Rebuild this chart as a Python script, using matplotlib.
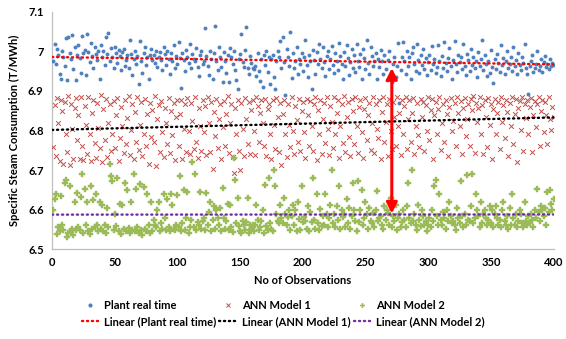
import numpy as np
import matplotlib
matplotlib.use("Agg")
import matplotlib.pyplot as plt
from matplotlib.lines import Line2D

plant = [
6.975,7.018,6.968,7.005,6.992,6.944,6.930,7.002,6.985,6.962,7.033,6.928,7.037,6.996,6.981,7.042,6.955,7.012,6.928,6.990,
7.015,6.983,6.946,7.038,6.995,7.004,6.941,7.043,6.998,6.972,7.021,6.988,6.957,7.010,6.993,6.978,7.002,6.930,7.016,6.985,
7.001,6.965,7.036,6.994,7.046,6.975,7.008,6.987,6.958,7.012,6.995,6.970,7.003,6.988,6.952,6.999,7.005,6.962,6.978,6.990,
6.958,7.028,6.993,6.940,6.982,7.002,6.967,6.988,6.918,7.027,6.975,6.946,6.996,7.010,6.965,6.985,6.929,6.991,7.005,6.978,
6.992,6.971,7.001,6.960,6.985,6.998,6.978,6.952,7.010,6.993,6.966,7.002,6.981,6.944,6.996,6.975,7.015,6.958,6.989,6.969,
7.025,6.984,6.907,6.996,6.978,6.951,7.003,6.986,6.971,7.018,6.958,6.994,6.982,6.975,7.008,6.960,6.938,6.991,7.001,6.968,
6.977,7.058,6.989,6.963,6.941,7.001,6.982,6.930,6.995,7.063,6.975,6.952,7.010,6.986,6.960,6.922,6.999,6.977,6.945,6.990,
6.922,7.008,6.985,6.968,7.000,6.952,6.927,6.905,6.980,6.994,7.043,6.972,6.961,7.003,7.061,6.958,6.944,6.988,6.970,6.957,
6.955,6.962,6.938,6.996,6.951,6.924,6.982,6.910,6.990,6.966,7.002,6.947,6.985,6.918,6.980,6.992,6.935,6.906,6.975,7.000,
6.987,7.027,6.957,7.036,6.973,6.890,7.005,6.985,6.962,7.048,6.933,6.997,6.958,6.975,7.010,6.942,6.982,6.968,6.996,6.950,
6.985,7.030,6.965,6.935,6.992,6.975,6.905,7.004,6.978,6.944,6.998,6.967,7.019,6.982,6.958,7.011,6.972,6.939,6.989,7.001,
6.956,6.980,7.014,6.965,6.946,6.996,6.977,6.952,7.022,6.988,6.969,6.930,6.999,6.962,7.015,6.983,6.940,6.973,7.007,6.958,
6.992,6.947,7.020,6.976,6.960,6.993,6.929,7.005,6.984,6.956,7.029,6.970,6.942,7.010,6.988,6.962,6.975,6.995,6.930,6.982,
6.960,7.004,6.975,6.943,6.990,6.955,6.928,6.978,7.002,6.946,6.922,6.968,6.987,6.935,6.962,7.021,6.870,6.953,6.985,7.025,
6.975,6.944,7.001,6.962,6.985,6.930,6.995,7.012,6.968,6.950,7.018,6.978,6.946,6.992,6.965,7.006,6.955,6.983,6.940,6.972,
6.990,6.953,7.013,6.968,6.982,6.945,6.960,7.016,6.975,6.938,6.989,6.957,7.024,6.970,6.950,6.984,7.008,6.962,6.930,6.978,
7.027,6.967,6.948,6.992,6.972,6.985,6.955,7.020,6.962,6.940,6.994,6.978,6.950,7.005,6.966,6.985,6.957,6.975,6.935,6.998,
6.962,6.980,7.028,6.952,6.990,6.968,6.938,6.975,6.945,7.003,6.960,6.920,6.982,6.955,6.993,6.970,6.948,7.015,6.965,6.983,
6.943,6.975,7.002,6.957,6.968,6.987,6.950,7.010,6.962,6.978,6.942,6.995,6.966,6.952,6.985,6.970,7.020,6.958,6.943,6.893,
6.962,6.975,6.990,6.948,6.958,6.968,7.000,6.953,6.964,6.982,6.947,6.972,6.988,6.960,6.967,6.955,6.980,6.962,6.971,6.966,
]

ann1 = [
6.758,6.865,6.735,6.882,6.820,6.722,6.876,6.850,6.715,6.871,6.790,6.745,6.888,6.712,6.868,6.803,6.728,6.858,6.881,6.775,
6.838,6.727,6.886,6.762,6.725,6.862,6.813,6.740,6.884,6.792,6.722,6.845,6.878,6.768,6.730,6.869,6.806,6.757,6.889,6.720,
6.855,6.776,6.880,6.732,6.818,6.867,6.748,6.792,6.874,6.755,6.838,6.882,6.722,6.780,6.860,6.812,6.743,6.878,6.765,6.832,
6.888,6.738,6.801,6.866,6.727,6.848,6.772,6.885,6.750,6.815,6.871,6.735,6.792,6.879,6.760,6.842,6.716,6.869,6.784,6.853,
6.770,6.887,6.710,6.828,6.864,6.746,6.875,6.796,6.733,6.858,6.820,6.765,6.881,6.742,6.850,6.788,6.870,6.725,6.835,6.877,
6.760,6.843,6.878,6.728,6.805,6.866,6.745,6.882,6.798,6.740,6.870,6.823,6.752,6.884,6.770,6.730,6.857,6.812,6.748,6.876,
6.795,6.862,6.738,6.886,6.818,6.745,6.872,6.702,6.848,6.785,6.880,6.755,6.830,6.868,6.728,6.810,6.875,6.762,6.843,6.888,
6.742,6.820,6.866,6.733,6.692,6.858,6.790,6.878,6.748,6.700,6.870,6.805,6.735,6.882,6.830,6.765,6.872,6.740,6.852,6.878,
6.800,6.738,6.886,6.862,6.772,6.845,6.878,6.820,6.762,6.880,6.735,6.855,6.868,6.790,6.728,6.876,6.815,6.752,6.883,6.833,
6.745,6.870,6.712,6.842,6.878,6.790,6.733,6.868,6.815,6.758,6.885,6.800,6.740,6.862,6.827,6.770,6.880,6.748,6.850,6.872,
6.795,6.730,6.880,6.838,6.762,6.874,6.812,6.747,6.866,6.885,6.725,6.852,6.790,6.878,6.740,6.830,6.870,6.768,6.885,6.805,
6.738,6.862,6.822,6.755,6.884,6.790,6.845,6.877,6.730,6.812,6.868,6.768,6.888,6.745,6.835,6.872,6.783,6.735,6.880,6.850,
6.766,6.886,6.812,6.742,6.860,6.878,6.795,6.730,6.855,6.882,6.775,6.838,6.870,6.750,6.818,6.885,6.742,6.866,6.805,6.780,
6.877,6.728,6.848,6.885,6.770,6.822,6.868,6.735,6.880,6.800,6.752,6.873,6.835,6.762,6.886,6.812,6.845,6.738,6.878,6.790,
6.862,6.885,6.752,6.828,6.876,6.770,6.845,6.882,6.740,6.812,6.870,6.788,6.758,6.880,6.835,6.872,6.748,6.865,6.800,6.886,
6.776,6.852,6.880,6.728,6.838,6.872,6.792,6.855,6.885,6.750,6.818,6.866,6.770,6.878,6.842,6.735,6.860,6.883,6.798,6.825,
6.870,6.760,6.886,6.845,6.812,6.875,6.740,6.858,6.882,6.785,6.830,6.868,6.760,6.880,6.852,6.888,6.742,6.870,6.822,6.858,
6.885,6.792,6.865,6.740,6.876,6.835,6.758,6.882,6.815,6.868,6.728,6.855,6.880,6.790,6.845,6.872,6.752,6.884,6.822,6.865,
6.780,6.878,6.848,6.735,6.870,6.812,6.886,6.765,6.842,6.880,6.720,6.858,6.875,6.802,6.885,6.748,6.866,6.832,6.878,6.790,
6.860,6.882,6.745,6.838,6.875,6.808,6.868,6.885,6.760,6.850,6.878,6.795,6.872,6.840,6.765,6.885,6.828,6.802,6.860,6.835,
]

ann2 = [
6.600,6.628,6.640,6.538,6.556,6.545,6.635,6.560,6.548,6.668,6.675,6.532,6.540,6.660,6.545,6.552,6.535,6.620,6.548,6.642,
6.555,6.548,6.632,6.690,6.540,6.652,6.562,6.618,6.545,6.538,6.660,6.550,6.625,6.556,6.640,6.562,6.545,6.618,6.552,6.612,
6.546,6.560,6.540,6.605,6.555,6.715,6.685,6.672,6.548,6.588,6.558,6.680,6.545,6.615,6.538,6.612,6.550,6.668,6.545,6.650,
6.553,6.542,6.618,6.548,6.690,6.545,6.652,6.555,6.540,6.665,6.548,6.537,6.658,6.552,6.545,6.640,6.560,6.540,6.620,6.545,
6.575,6.562,6.555,6.600,6.618,6.545,6.565,6.552,6.640,6.580,6.548,6.628,6.555,6.545,6.640,6.612,6.552,6.548,6.560,6.638,
6.555,6.685,6.545,6.565,6.650,6.548,6.580,6.645,6.540,6.555,6.575,6.720,6.555,6.690,6.548,6.568,6.560,6.645,6.552,6.570,
6.578,6.548,6.642,6.562,6.595,6.618,6.545,6.575,6.610,6.552,6.598,6.580,6.562,6.605,6.545,6.655,6.580,6.550,6.572,6.615,
6.548,6.612,6.555,6.543,6.730,6.675,6.565,6.630,6.558,6.545,6.540,6.570,6.560,6.548,6.568,6.630,6.540,6.562,6.552,6.560,
6.545,6.560,6.612,6.575,6.548,6.555,6.572,6.598,6.540,6.662,6.558,6.548,6.680,6.565,6.552,6.545,6.700,6.660,6.590,6.572,
6.565,6.612,6.578,6.565,6.630,6.590,6.560,6.582,6.600,6.548,6.585,6.612,6.562,6.598,6.545,6.620,6.576,6.548,6.660,6.568,
6.582,6.570,6.552,6.608,6.545,6.595,6.568,6.680,6.575,6.552,6.640,6.565,6.548,6.602,6.558,6.585,6.562,6.640,6.590,6.555,
6.578,6.612,6.700,6.565,6.590,6.555,6.610,6.575,6.660,6.550,6.600,6.582,6.590,6.555,6.628,6.565,6.605,6.552,6.585,6.668,
6.600,6.572,6.545,6.672,6.568,6.598,6.650,6.560,6.580,6.620,6.590,6.552,6.605,6.570,6.565,6.592,6.555,6.600,6.648,6.570,
6.578,6.585,6.560,6.552,6.610,6.575,6.600,6.592,6.560,6.630,6.555,6.585,6.570,6.612,6.548,6.578,6.590,6.555,6.568,6.600,
6.575,6.555,6.610,6.668,6.580,6.565,6.700,6.572,6.590,6.560,6.548,6.612,6.575,6.558,6.600,6.585,6.562,6.572,6.545,6.560,
6.580,6.555,6.598,6.570,6.660,6.675,6.585,6.562,6.640,6.575,6.560,6.595,6.580,6.552,6.600,6.570,6.620,6.585,6.565,6.572,
6.560,6.548,6.605,6.580,6.565,6.672,6.585,6.555,6.590,6.562,6.688,6.575,6.570,6.610,6.690,6.565,6.580,6.640,6.600,6.585,
6.555,6.620,6.565,6.590,6.600,6.580,6.560,6.575,6.610,6.565,6.598,6.555,6.590,6.608,6.580,6.560,6.575,6.555,6.600,6.620,
6.570,6.560,6.585,6.550,6.605,6.560,6.640,6.578,6.562,6.590,6.555,6.570,6.600,6.590,6.565,6.555,6.618,6.572,6.560,6.585,
6.565,6.590,6.575,6.555,6.600,6.580,6.652,6.595,6.570,6.610,6.600,6.585,6.605,6.562,6.645,6.595,6.650,6.615,6.600,6.628,
]

x_ticks = [0, 50, 100, 150, 200, 250, 300, 350, 400]
y_ticks = [6.5, 6.6, 6.7, 6.8, 6.9, 7.0, 7.1]
y_tick_labels = ["6.5", "6.6", "6.7", "6.8", "6.9", "7", "7.1"]
series_names = ["Plant real time", "ANN Model 1", "ANN Model 2"]
arrow_x = 271
arrow_top = 6.958
arrow_bottom = 6.590

FONT = ["Lato", "DejaVu Sans"]
plt.rcParams["font.family"] = FONT

fig = plt.figure(figsize=(5.66, 3.39), dpi=100)
ax = fig.add_axes([0.092, 0.265, 0.886, 0.70])

obs = np.arange(1, len(plant) + 1)
c_blue = "#4F81BD"
c_red = "#C0504D"
c_green = "#9BBB59"

ax.scatter(obs, plant, s=8, color=c_blue, marker="o", linewidths=0, zorder=3)
ax.scatter(obs, ann1, s=12, color=c_red, marker="x", linewidths=0.7, zorder=3)
ax.scatter(obs, ann2, s=16, color=c_green, marker="P", linewidths=0.3,
           edgecolors=c_green, zorder=3)

trend_colors = ["#FF0000", "#000000", "#7030A0"]
dot_style = (0, (0.5, 1.6))
xs = np.array([0, 400])
for ys, col in zip([plant, ann1, ann2], trend_colors):
    k, b = np.polyfit(obs, ys, 1)
    ax.plot(xs, k * xs + b, color=col, lw=1.7, linestyle=dot_style,
            dash_capstyle="round", zorder=4)

ax.annotate("", xy=(arrow_x, arrow_top), xytext=(arrow_x, arrow_bottom),
            arrowprops=dict(arrowstyle="<|-|>", color="#FF0000", lw=2.2,
                            mutation_scale=16, shrinkA=0, shrinkB=0),
            zorder=5)

ax.set_xlim(0, 400)
ax.set_ylim(6.5, 7.1)
ax.set_xticks(x_ticks)
ax.set_yticks(y_ticks)
ax.set_yticklabels(y_tick_labels)
ax.tick_params(length=0, labelsize=8, pad=6)
for lab in ax.get_xticklabels() + ax.get_yticklabels():
    lab.set_fontweight("bold")
for s in ["top", "right"]:
    ax.spines[s].set_visible(False)
for s in ["left", "bottom"]:
    ax.spines[s].set_color("#BFBFBF")
    ax.spines[s].set_linewidth(0.9)

ax.set_xlabel("No of Observations", fontsize=8, fontweight="bold", labelpad=5)
ax.set_ylabel("Specific Steam Consumption (T/MWh)", fontsize=8, fontweight="bold", labelpad=6)

h_plant = Line2D([], [], linestyle="none", marker="o", markersize=3, color=c_blue, markeredgewidth=0)
h_ann1 = Line2D([], [], linestyle="none", marker="x", markersize=3, color=c_red, markeredgewidth=0.7)
h_ann2 = Line2D([], [], linestyle="none", marker="P", markersize=3.5, color=c_green, markeredgewidth=0)
lh = [Line2D([], [], color=c, lw=1.7, linestyle=dot_style, dash_capstyle="round") for c in trend_colors]
handles = [h_plant, lh[0], h_ann1, lh[1], h_ann2, lh[2]]
labels = [series_names[0], "Linear (" + series_names[0] + ")",
          series_names[1], "Linear (" + series_names[1] + ")",
          series_names[2], "Linear (" + series_names[2] + ")"]
leg = fig.legend(handles, labels, ncol=3, loc="center", bbox_to_anchor=(0.5, 0.075),
                 frameon=False, prop={"family": FONT, "weight": "bold", "size": 8},
                 handlelength=1.6, handletextpad=0.4, columnspacing=0.3,
                 labelspacing=0.45)

fig.savefig("out.png", dpi=100)
